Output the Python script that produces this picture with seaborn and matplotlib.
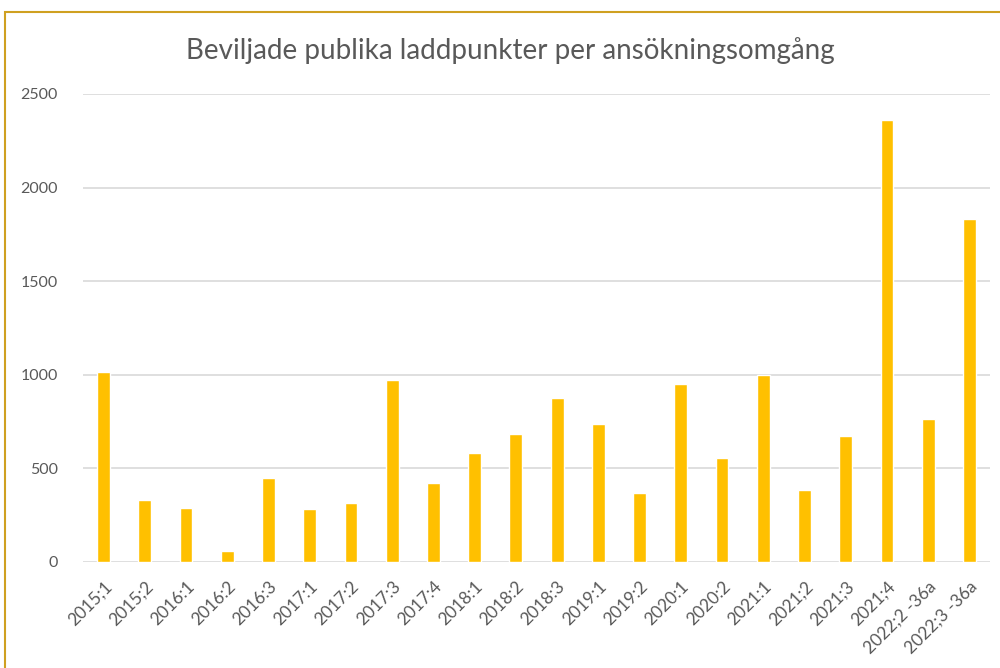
import matplotlib
matplotlib.use("Agg")
import matplotlib.pyplot as plt
import seaborn as sns
import pandas as pd
from matplotlib.patches import Rectangle

# Data
omgangar = ["2015;1", "2015;2", "2016:1", "2016:2", "2016:3", "2017:1", "2017:2",
            "2017:3", "2017:4", "2018:1", "2018:2", "2018:3", "2019:1", "2019:2",
            "2020:1", "2020:2", "2021:1", "2021;2", "2021;3", "2021;4",
            "2022;2 -36a", "2022;3 -36a"]
laddpunkter = [1013, 333, 287, 60, 447, 281, 315, 974, 424, 582, 685, 876,
               737, 368, 950, 555, 1000, 384, 673, 2360, 764, 1832]
y_ticks = [0, 500, 1000, 1500, 2000, 2500]

df = pd.DataFrame({"omgang": omgangar, "antal": laddpunkter})

sns.set_style("white")
plt.rcParams["font.family"] = ["Lato", "DejaVu Sans"]

text_color = "#595959"
fig = plt.figure(figsize=(10, 6.68), dpi=100)
ax = fig.add_axes([0.083, 0.1587, 0.907, 0.7006])

sns.barplot(data=df, x="omgang", y="antal", color="#FFC000", saturation=1,
            width=0.31, ax=ax, zorder=3)

ax.set_ylim(0, 2500)
ax.set_xlim(-0.5, len(omgangar) - 0.5)
ax.set_yticks(y_ticks)
ax.set_yticklabels([str(t) for t in y_ticks], fontsize=11.5, color=text_color)
ax.yaxis.grid(True, color="#D9D9D9", linewidth=1.2, zorder=0)
ax.set_axisbelow(True)
ax.tick_params(axis="y", length=0, pad=18)
ax.set_xticks(range(len(omgangar)))
ax.set_xticklabels(omgangar, rotation=45, ha="right", rotation_mode="anchor",
                   fontsize=12.5, color=text_color)
ax.tick_params(axis="x", length=0, pad=12)
ax.set_xlabel("")
ax.set_ylabel("")
sns.despine(ax=ax, left=True, bottom=True, top=True, right=True)

fig.text(0.51, 0.925, "Beviljade publika laddpunkter per ansökningsomgång",
         ha="center", va="center", fontsize=20, color=text_color)

# gold frame around the chart
fig.patches.append(Rectangle((0.005, -0.05), 1.2, 1.032, transform=fig.transFigure,
                             fill=False, edgecolor="#CFA020", linewidth=1.5))

fig.savefig("out.png", dpi=100)
